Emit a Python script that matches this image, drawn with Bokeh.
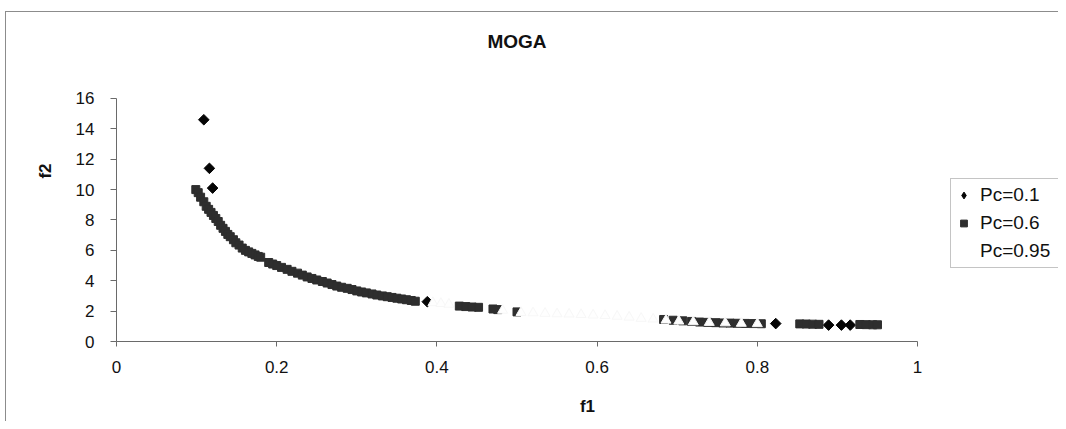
import math
from bokeh.plotting import figure
from bokeh.models import Range1d, FixedTicker, Legend, LegendItem, Label
from bokeh.embed import file_html
from bokeh.resources import INLINE

# ---- data ----
pc01_f1 = [0.109, 0.116, 0.120, 0.388, 0.823, 0.889, 0.905, 0.916]
pc01_f2 = [14.6, 11.4, 10.1, 2.62, 1.18, 1.08, 1.08, 1.08]

pc06_f1 = [0.099, 0.102, 0.105, 0.109, 0.112, 0.115, 0.118, 0.121, 0.124, 0.127,
           0.130, 0.133, 0.136, 0.139, 0.142, 0.146, 0.149, 0.153, 0.157, 0.161,
           0.165, 0.169, 0.173, 0.177, 0.180, 0.190, 0.195, 0.200, 0.206, 0.213,
           0.219, 0.226, 0.232, 0.238, 0.244, 0.250, 0.257, 0.263, 0.269, 0.275,
           0.281, 0.288, 0.294, 0.300, 0.306, 0.312, 0.319, 0.325, 0.332, 0.338,
           0.344, 0.350, 0.356, 0.362, 0.368, 0.373, 0.428, 0.436, 0.444, 0.452,
           0.470, 0.476, 0.500, 0.683, 0.695, 0.707, 0.718, 0.728, 0.738, 0.748,
           0.757, 0.766, 0.775, 0.785, 0.795, 0.805, 0.853, 0.861, 0.869, 0.877,
           0.928, 0.936, 0.944, 0.950]
pc06_f2 = [10.0, 9.8, 9.5, 9.2, 8.9, 8.7, 8.5, 8.3, 8.1, 7.9,
           7.65, 7.45, 7.25, 7.05, 6.9, 6.7, 6.5, 6.35, 6.15, 6.0,
           5.9, 5.8, 5.7, 5.6, 5.55, 5.2, 5.1, 5.0, 4.88, 4.75,
           4.62, 4.5, 4.37, 4.25, 4.15, 4.05, 3.95, 3.85, 3.75, 3.65,
           3.57, 3.5, 3.42, 3.33, 3.26, 3.2, 3.13, 3.06, 3.0, 2.95,
           2.9, 2.85, 2.8, 2.75, 2.7, 2.65, 2.33, 2.3, 2.27, 2.25,
           2.14, 2.1, 1.95, 1.45, 1.4, 1.36, 1.32, 1.28, 1.26, 1.24,
           1.22, 1.21, 1.2, 1.19, 1.18, 1.17, 1.16, 1.15, 1.14, 1.13,
           1.12, 1.11, 1.1, 1.1]

pc095_f1 = [0.395, 0.405, 0.415, 0.482, 0.505, 0.520, 0.535, 0.550, 0.565, 0.580,
            0.595, 0.610, 0.625, 0.640, 0.655, 0.670, 0.686, 0.702, 0.720, 0.740,
            0.760, 0.780, 0.800]
pc095_f2 = [2.55, 2.5, 2.45, 2.05, 1.9, 1.88, 1.85, 1.82, 1.8, 1.77,
            1.74, 1.7, 1.66, 1.6, 1.52, 1.47, 1.4, 1.34, 1.29, 1.25,
            1.22, 1.19, 1.17]

series_names = ["Pc=0.1", "Pc=0.6", "Pc=0.95"]
title_text = "MOGA"

x_ticks = [0, 0.2, 0.4, 0.6, 0.8, 1]
x_tick_labels = ["0", "0.2", "0.4", "0.6", "0.8", "1"]
y_ticks = [0, 2, 4, 6, 8, 10, 12, 14, 16]

FONT = "Liberation Sans"
NAN = float("nan")

# The frame reaches the top and right edges of the canvas so that the title
# and the legend (which sit outside the axes area) are not clipped; the axes
# themselves are bounded to the data extent 0..1 and 0..16.
p = figure(width=1058, height=421, output_backend="svg", toolbar_location=None,
           x_range=Range1d(0, 1.176), y_range=Range1d(0, 22.45),
           min_border_left=116, min_border_right=0,
           min_border_top=0, min_border_bottom=80,
           background_fill_color=None, border_fill_color=None)
# thin grey chart-area border (top and left edges; the rest runs off-page)
p.styles = {"background": "linear-gradient(#8c8c8c, #8c8c8c) 5px 11px / 100% 1px no-repeat, "
                          "linear-gradient(#8c8c8c, #8c8c8c) 5px 11px / 1px 100% no-repeat, "
                          "white"}

p.outline_line_color = None
p.xgrid.visible = False
p.ygrid.visible = False

for ax in (p.xaxis[0], p.yaxis[0]):
    ax.axis_line_color = "#6a6a6a"
    ax.major_tick_line_color = "#6a6a6a"
    ax.minor_tick_line_color = None
    ax.major_tick_in = 0
    ax.major_label_text_font = FONT
    ax.major_label_text_font_size = "17px"
    ax.major_label_text_color = "#111111"
    ax.axis_label_text_font = FONT
    ax.axis_label_text_font_size = "17px"
    ax.axis_label_text_font_style = "bold"
    ax.axis_label_text_color = "#111111"

p.xaxis.ticker = FixedTicker(ticks=x_ticks)
p.xaxis.bounds = (x_ticks[0], x_ticks[-1])
p.xaxis.major_label_overrides = dict(zip(x_ticks, x_tick_labels))
p.xaxis.major_tick_out = 5
p.xaxis.major_label_standoff = 14
p.xaxis.axis_label = "f1"
p.xaxis.axis_label_standoff = 21

p.yaxis.ticker = FixedTicker(ticks=y_ticks)
p.yaxis.bounds = (y_ticks[0], y_ticks[-1])
p.yaxis.major_tick_out = 6
p.yaxis.major_label_standoff = 16
p.yaxis.axis_label = "f2"
p.yaxis.axis_label_standoff = 18

r1 = p.scatter(pc01_f1, pc01_f2, marker="square", angle=math.pi / 4, size=7.5,
               fill_color="#050505", line_color="#050505")
r2 = p.scatter(pc06_f1, pc06_f2, marker="square", size=8,
               fill_color="#2e2e2e", line_color="#2e2e2e")
r3 = p.scatter(pc095_f1, pc095_f2, marker="triangle", size=10,
               fill_color="#fefefe", line_color="#f7f7f7")
# legend-only renderers (a single NaN point, so nothing shows in the plot)
r1_leg = p.scatter([NAN], [NAN], marker="diamond", size=12,
                   fill_color="#050505", line_color="#050505")
r2_leg = p.scatter([NAN], [NAN], marker="square", size=7,
                   fill_color="#2e2e2e", line_color="#2e2e2e")
r3_leg = p.scatter([NAN], [NAN], marker="triangle", size=10,
                   fill_alpha=0, line_alpha=0)

title = Label(x=0.5, y=19.75, text=title_text, text_align="center",
              text_baseline="middle", text_font=FONT, text_font_size="19px",
              text_font_style="bold", text_color="#111111")
p.add_layout(title)

legend = Legend(items=[LegendItem(label=series_names[0], renderers=[r1_leg]),
                       LegendItem(label=series_names[1], renderers=[r2_leg]),
                       LegendItem(label=series_names[2], renderers=[r3_leg])],
                location=(834, 73))
legend.label_text_font = FONT
legend.label_text_font_size = "19px"
legend.label_text_color = "#111111"
legend.glyph_width = 17
legend.glyph_height = 24
legend.label_height = 24
legend.label_width = 110
legend.label_standoff = 8
legend.spacing = 4
legend.padding = 4
legend.margin = 0
legend.border_line_color = "#8a8a8a"
legend.border_line_width = 1
legend.background_fill_color = "white"
p.add_layout(legend, "center")

open("out.html", "w").write(file_html(p, INLINE))
